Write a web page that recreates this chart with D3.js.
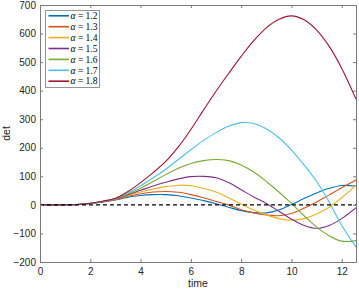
<!DOCTYPE html>
<html lang="en">
<head>
<meta charset="utf-8">
<title>det vs time</title>
<style>
  body {margin: 0; background: #fff;}
  svg  {display: block; font-family: "Liberation Sans", Arial, sans-serif;}
  .tick text {font-size: 10px; fill: #262626;}
  .legend text {font-family: "Liberation Serif", "DejaVu Serif", serif; font-size: 9.5px; fill: #000;}
</style>
</head>
<body>
<svg id="chart" width="359" height="291"></svg>

<script src="https://d3js.org/d3.v7.min.js"></script>
<script>
// sample times (last one is the right edge, 4*pi)
const time = [0, 0.5, 1, 1.5, 2, 2.5, 3, 3.5, 4, 4.5, 5, 5.5, 6, 6.5, 7, 7.5, 8, 8.5, 9, 9.5, 10, 10.5, 11, 11.5, 12, 12.57];

const alphas = ["1.2", "1.3", "1.4", "1.5", "1.6", "1.7", "1.8"];

// det values, one array per alpha
const det12 = [0, 0, 0.3, 1.5, 5, 10.5, 17, 27, 33, 36, 36, 32, 24, 15, 4, -8, -20, -27, -28, -18, 1, 22, 42, 58, 68, 66];
const det13 = [0, 0, 0.3, 1.5, 5, 11, 18, 30, 39, 45, 47, 44, 36, 25, 12, 0, -17, -28, -35, -38, -30, -12, 10, 35, 60, 87];
const det14 = [0, 0, 0.3, 1.5, 5, 11, 19, 33, 45, 56, 64, 69, 67, 58, 45, 25, 3, -18, -35, -48, -54, -48, -32, -8, 25, 69];
const det15 = [0, 0, 0.3, 1.5, 5, 11.5, 20, 36, 51, 66, 79, 91, 99, 100, 95, 78, 53, 28, 5, -22, -50, -72, -82, -72, -48, -10];
const det16 = [0, 0, 0.3, 1.5, 5.5, 12, 21, 38, 58, 82, 106, 128, 145, 155, 159, 155, 140, 115, 82, 45, 5, -38, -78, -108, -127, -125];
const det17 = [0, 0, 0.3, 1.5, 5.5, 12.5, 22, 42, 67, 95, 125, 159, 193, 225, 253, 275, 288, 285, 267, 235, 192, 140, 82, 10, -72, -148];
const det18 = [0, 0, 0.3, 1.5, 6, 13, 23, 47, 78, 113, 152, 203, 264, 332, 398, 460, 520, 575, 620, 650, 662, 648, 612, 555, 478, 370];

const seriesValues = [det12, det13, det14, det15, det16, det17, det18];
const colors = ["#0072BD", "#D95319", "#EDB120", "#7E2F8E", "#77AC30", "#4DBEEE", "#A2142F"];

const xTicks = [0, 2, 4, 6, 8, 10, 12];
const yTicks = [-200, -100, 0, 100, 200, 300, 400, 500, 600, 700];

const svg = d3.select("#chart");
const margin = {left: 40, top: 5, right: 3, bottom: 29};
const W = 359, H = 291;

const x = d3.scaleLinear().domain([0, 4 * Math.PI]).range([margin.left, W - margin.right]);
const y = d3.scaleLinear().domain([-200, 700]).range([H - margin.bottom, margin.top]);

svg.append("clipPath").attr("id", "clip")
  .append("rect")
  .attr("x", x.range()[0]).attr("y", y.range()[1])
  .attr("width", x.range()[1] - x.range()[0])
  .attr("height", y.range()[0] - y.range()[1]);

const line = d3.line()
  .x((d, i) => x(time[i]))
  .y(d => y(d))
  .curve(d3.curveCatmullRom.alpha(0.5));

const plot = svg.append("g").attr("clip-path", "url(#clip)");

seriesValues.forEach((vals, k) => {
  plot.append("path")
    .datum(vals)
    .attr("d", line)
    .attr("fill", "none")
    .attr("stroke", colors[k])
    .attr("stroke-width", 1.1);
});

// zero reference line
plot.append("line")
  .attr("x1", x.range()[0]).attr("x2", x.range()[1])
  .attr("y1", y(0)).attr("y2", y(0))
  .attr("stroke", "#000")
  .attr("stroke-width", 1.1)
  .attr("stroke-dasharray", "4,3");

// axes, ticks pointing inward like matlab
const axisColor = "#7a7a7a";
const gx = svg.append("g").attr("transform", `translate(0,${y.range()[0]})`)
  .call(d3.axisBottom(x).tickValues(xTicks).tickSizeInner(-3).tickSizeOuter(0).tickPadding(6));
const gxTop = svg.append("g").attr("transform", `translate(0,${y.range()[1]})`)
  .call(d3.axisTop(x).tickValues(xTicks).tickSizeInner(-3).tickSizeOuter(0).tickFormat(""));
const gy = svg.append("g").attr("transform", `translate(${x.range()[0]},0)`)
  .call(d3.axisLeft(y).tickValues(yTicks).tickSizeInner(-3).tickSizeOuter(0).tickPadding(4));
const gyRight = svg.append("g").attr("transform", `translate(${x.range()[1]},0)`)
  .call(d3.axisRight(y).tickValues(yTicks).tickSizeInner(-3).tickSizeOuter(0).tickFormat(""));

[gx, gxTop, gy, gyRight].forEach(g => {
  g.select(".domain").attr("stroke", axisColor);
  g.selectAll(".tick line").attr("stroke", axisColor);
});

svg.append("text")
  .attr("x", (x.range()[0] + x.range()[1]) / 2)
  .attr("y", H - 4)
  .attr("text-anchor", "middle")
  .attr("font-size", 10.5)
  .attr("fill", "#262626")
  .text("time");

svg.append("text")
  .attr("transform", `translate(10,${(y.range()[0] + y.range()[1]) / 2}) rotate(-90)`)
  .attr("text-anchor", "middle")
  .attr("font-size", 10.5)
  .attr("fill", "#262626")
  .text("det");

// legend
const legend = svg.append("g").attr("class", "legend");
legend.append("rect")
  .attr("x", 45.5).attr("y", 10.5)
  .attr("width", 54).attr("height", 77)
  .attr("fill", "#fff")
  .attr("stroke", axisColor)
  .attr("stroke-width", 0.8);

alphas.forEach((a, k) => {
  const yy = 15.8 + k * 10.9;
  legend.append("line")
    .attr("x1", 48.5).attr("x2", 69)
    .attr("y1", yy).attr("y2", yy)
    .attr("stroke", colors[k])
    .attr("stroke-width", 1.6);
  const t = legend.append("text").attr("x", 70.5).attr("y", yy + 3.2);
  t.append("tspan").attr("font-style", "italic").text("α");
  t.append("tspan").text(" = " + a);
});
</script>
</body>
</html>
